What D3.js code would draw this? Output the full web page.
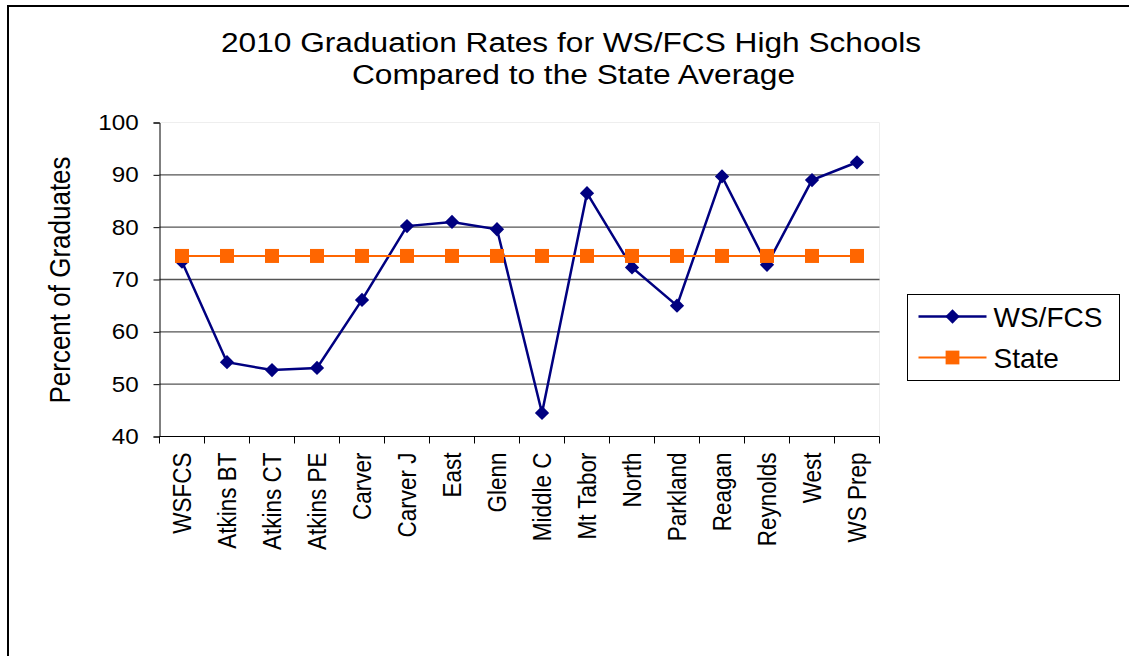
<!DOCTYPE html>
<html>
<head>
<meta charset="utf-8">
<script src="https://cdn.jsdelivr.net/npm/d3@7"></script>
<style>
  body { margin: 0; background: #fff; }
  text { font-family: "Liberation Sans", Arial, sans-serif; fill: #000; }
</style>
</head>
<body>
<svg id="chart" width="1129" height="656"></svg>
<script>
// data
var schools = ["WSFCS", "Atkins BT", "Atkins CT", "Atkins PE", "Carver", "Carver J", "East", "Glenn",
  "Middle C", "Mt Tabor", "North", "Parkland", "Reagan", "Reynolds", "West", "WS Prep"];
var wsfcs = [73.4, 54.2, 52.7, 53.1, 66.1, 80.2, 81.0, 79.6, 44.5, 86.5, 72.3, 65.0, 89.7, 72.8, 89.0, 92.4];
var state = [74.5, 74.5, 74.5, 74.5, 74.5, 74.5, 74.5, 74.5, 74.5, 74.5, 74.5, 74.5, 74.5, 74.5, 74.5, 74.5];
var yTicks = [40, 50, 60, 70, 80, 90, 100];

var svg = d3.select("#chart");

// outer frame, runs off the right and bottom
svg.append("rect")
    .attr("x", 8).attr("y", 6)
    .attr("width", 1140).attr("height", 680)
    .attr("fill", "none").attr("stroke", "#000").attr("stroke-width", 2);

var margin = { top: 122.5, left: 159.5 };
var width = 720, height = 314;

var x = d3.scaleBand().domain(schools).range([0, width]);
var y = d3.scaleLinear().domain([40, 100]).range([height, 0]);

var g = svg.append("g")
    .attr("transform", "translate(" + margin.left + "," + margin.top + ")");

// faint plot edges
g.append("path")
    .attr("d", "M0,0 H" + width + " V" + height)
    .attr("fill", "none").attr("stroke", "#eee");

// gridlines
g.selectAll(".grid").data(yTicks.filter(function(d){ return d > 40 && d < 100; }))
  .enter().append("line")
    .attr("x1", 0).attr("x2", width)
    .attr("y1", function(d){ return y(d); }).attr("y2", function(d){ return y(d); })
    .attr("stroke", "#555").attr("stroke-width", 1.3);

// y axis
var yAxis = d3.axisLeft(y).tickValues(yTicks).tickSize(6).tickPadding(8);
var yG = g.append("g").call(yAxis);
yG.select(".domain").attr("stroke", "#000");
yG.selectAll(".tick line").attr("stroke", "#000");
yG.selectAll(".tick text")
    .attr("x", -19)
    .attr("transform", "scale(1.1,1)")
    .style("font-size", "22px")
    .style("font-family", "Liberation Sans, Arial, sans-serif")
    .attr("fill", "#000");

// x axis, ticks between categories
var xG = g.append("g").attr("transform", "translate(0," + height + ")");
xG.append("line").attr("x1", 0).attr("x2", width).attr("stroke", "#000");
xG.selectAll(".xt").data(schools.concat(["_end"]))
  .enter().append("line")
    .attr("x1", function(d, i){ return i * x.bandwidth(); })
    .attr("x2", function(d, i){ return i * x.bandwidth(); })
    .attr("y1", 0).attr("y2", 7)
    .attr("stroke", "#000");
xG.selectAll(".xl").data(schools)
  .enter().append("text")
    .attr("transform", function(d){
      return "translate(" + (x(d) + x.bandwidth() / 2 + 9) + ",16) scale(1.15,1) rotate(-90)";
    })
    .attr("text-anchor", "end")
    .style("font-size", "22.5px")
    .text(function(d){ return d; });

// series
var line = d3.line()
    .x(function(d, i){ return x(schools[i]) + x.bandwidth() / 2; })
    .y(function(d){ return y(d); });

g.append("path").datum(wsfcs)
    .attr("d", line)
    .attr("fill", "none").attr("stroke", "#000080").attr("stroke-width", 2.5);

g.selectAll(".dia").data(wsfcs)
  .enter().append("path")
    .attr("d", d3.symbol().type(d3.symbolDiamond2).size(130))
    .attr("transform", function(d, i){
      return "translate(" + (x(schools[i]) + x.bandwidth() / 2) + "," + y(d) + ")";
    })
    .attr("fill", "#000080");

g.append("path").datum(state)
    .attr("d", line)
    .attr("fill", "none").attr("stroke", "#FF6600").attr("stroke-width", 2);

g.selectAll(".sq").data(state)
  .enter().append("rect")
    .attr("x", function(d, i){ return x(schools[i]) + x.bandwidth() / 2 - 7; })
    .attr("y", function(d){ return y(d) - 7; })
    .attr("width", 14).attr("height", 14)
    .attr("fill", "#FF6600");

// title
svg.append("text")
    .attr("x", 221).attr("y", 52)
    .attr("textLength", 700).attr("lengthAdjust", "spacingAndGlyphs")
    .style("font-size", "27px")
    .text("2010 Graduation Rates for WS/FCS High Schools");
svg.append("text")
    .attr("x", 352).attr("y", 84)
    .attr("textLength", 443).attr("lengthAdjust", "spacingAndGlyphs")
    .style("font-size", "27px")
    .text("Compared to the State Average");

// y axis title
svg.append("text")
    .attr("transform", "translate(70,280) scale(1.1,1) rotate(-90)")
    .attr("text-anchor", "middle")
    .style("font-size", "26px")
    .text("Percent of Graduates");

// legend
var legend = svg.append("g").attr("transform", "translate(907.5,294.5)");
legend.append("rect")
    .attr("width", 212).attr("height", 86)
    .attr("fill", "#fff").attr("stroke", "#000").attr("stroke-width", 1);

var legendItems = [
  { label: "WS/FCS", color: "#000080", shape: "diamond" },
  { label: "State", color: "#FF6600", shape: "square" }
];
var rows = legend.selectAll(".item").data(legendItems)
  .enter().append("g")
    .attr("transform", function(d, i){ return "translate(0," + (22 + i * 41) + ")"; });
rows.append("line")
    .attr("x1", 11).attr("x2", 79)
    .attr("stroke", function(d){ return d.color; })
    .attr("stroke-width", function(d){ return d.shape === "diamond" ? 2.5 : 2; });
rows.append("path")
    .attr("d", function(d){
      return d.shape === "diamond"
        ? d3.symbol().type(d3.symbolDiamond2).size(130)()
        : d3.symbol().type(d3.symbolSquare).size(190)();
    })
    .attr("transform", "translate(45,0)")
    .attr("fill", function(d){ return d.color; });
rows.append("text")
    .attr("x", 86).attr("y", 10)
    .style("font-size", "28px")
    .text(function(d){ return d.label; });
</script>
</body>
</html>
